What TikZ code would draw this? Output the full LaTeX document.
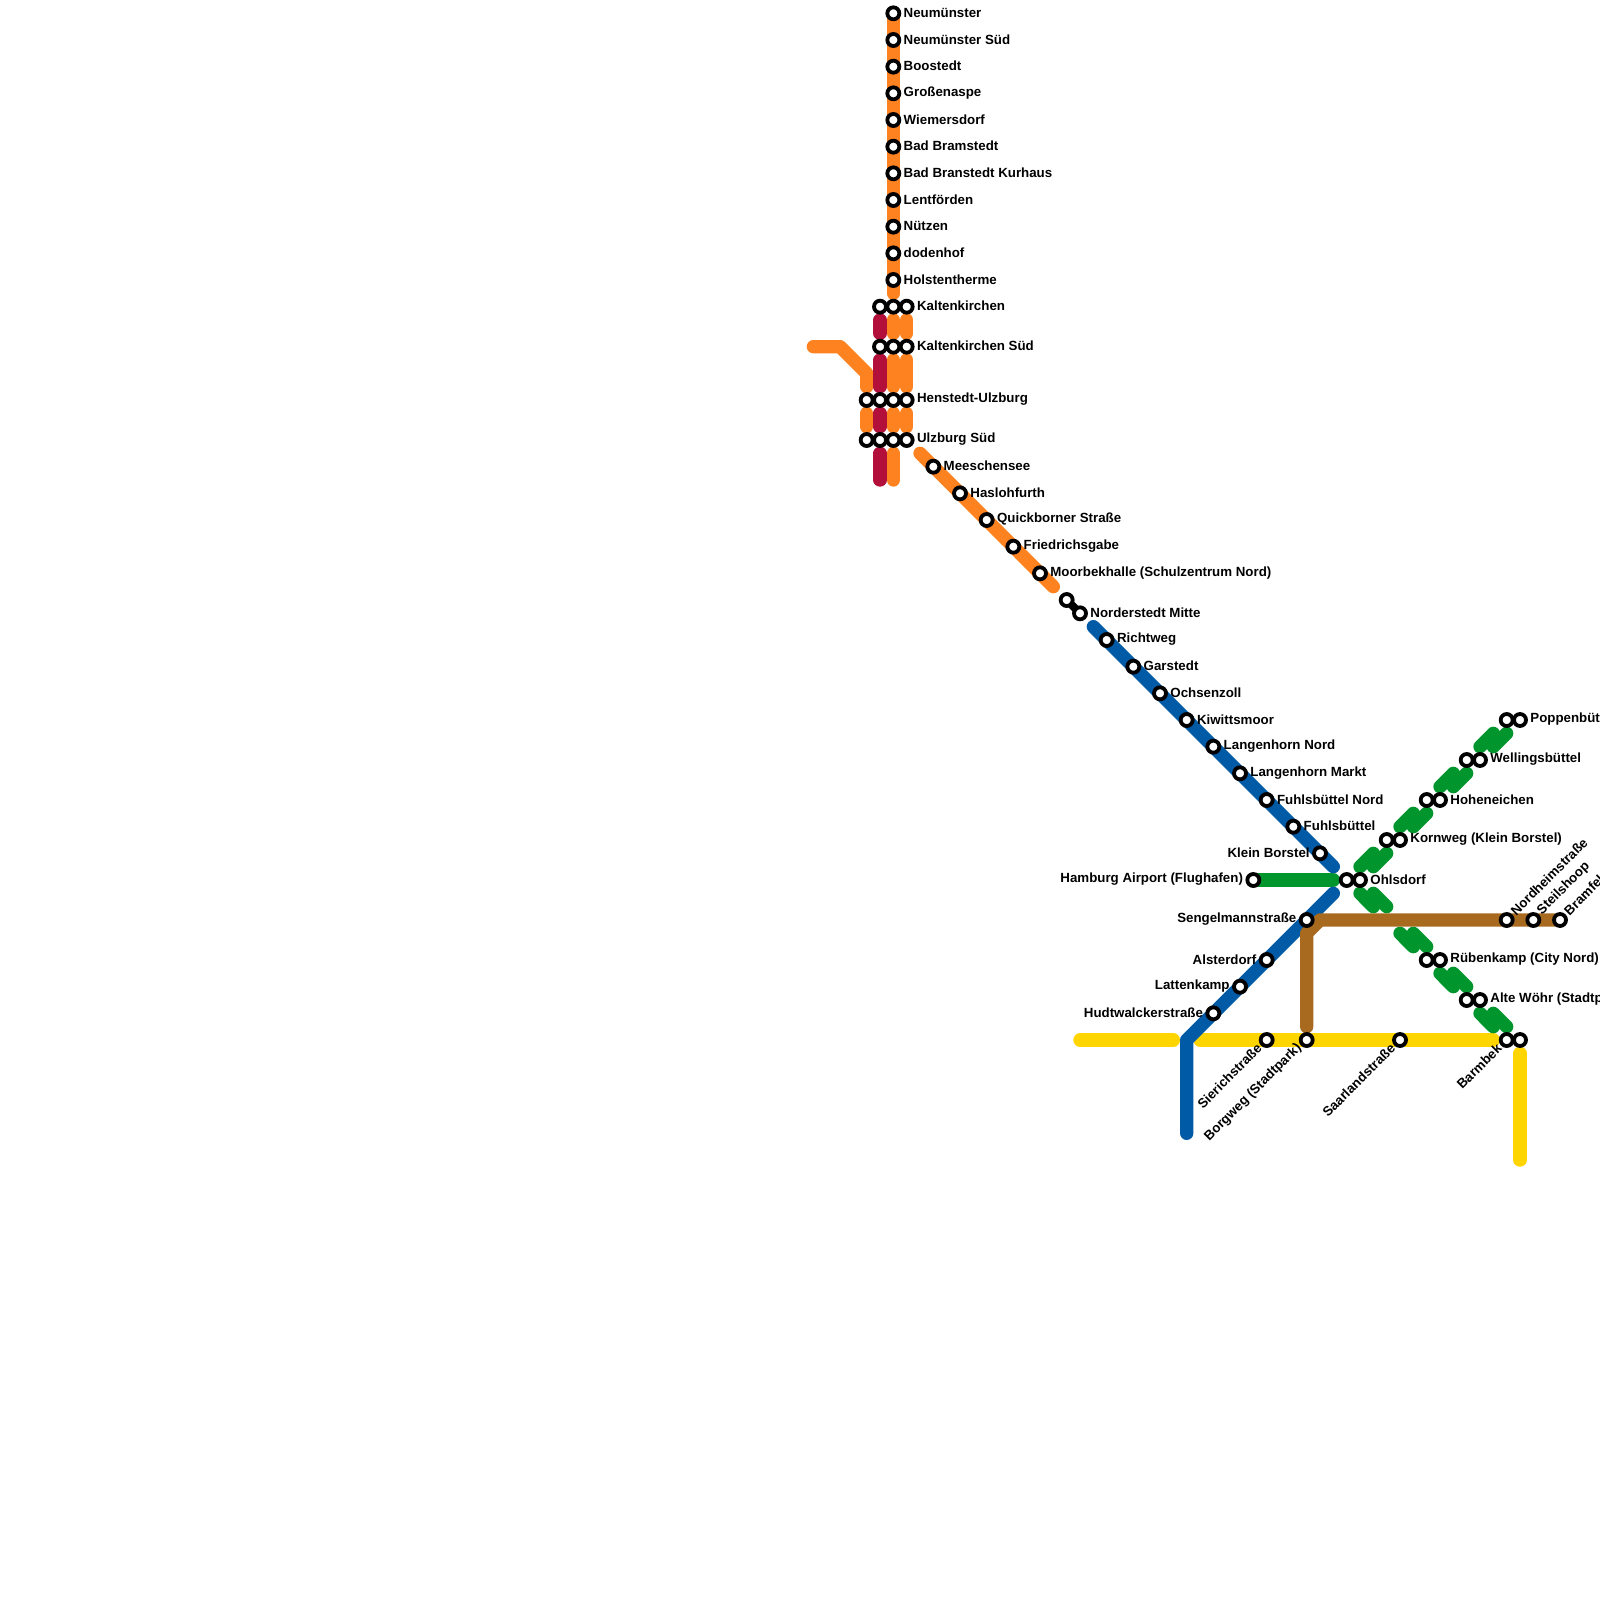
\documentclass[tikz,border=0pt]{standalone}
\usepackage{fontspec}
\setmainfont{Liberation Sans}
\usetikzlibrary{backgrounds}
\definecolor{cOrange}{HTML}{FF8220}
\definecolor{cCrimson}{HTML}{B2103A}
\definecolor{cBlue}{HTML}{005AA6}
\definecolor{cGreen}{HTML}{00962D}
\definecolor{cBrown}{HTML}{A86A1E}
\definecolor{cYellow}{HTML}{FFD500}
\tikzset{
  stn/.style={circle,draw=black,fill=white,line width=3.8pt,minimum size=12pt,inner sep=0pt},
  tr/.style={anchor=west,inner sep=0pt,font=\fontsize{13.3}{15}\selectfont\bfseries,xshift=10.2pt,yshift=0.7pt},
  tl/.style={anchor=east,inner sep=0pt,font=\fontsize{13.3}{15}\selectfont\bfseries,xshift=-10.2pt,yshift=0.7pt},
  tne/.style={anchor=west,inner sep=0pt,font=\fontsize{13.3}{15}\selectfont\bfseries,rotate=45,xshift=9.5pt,yshift=0.7pt},
  tsw/.style={anchor=east,inner sep=0pt,font=\fontsize{13.3}{15}\selectfont\bfseries,rotate=45,xshift=-9.5pt,yshift=0.7pt},
  ln/.style={line width=13.33pt,line cap=round,line join=round},
  lnk/.style={line width=8pt,draw=black},
}
\newcommand{\st}[3]{\node[stn] (#1) at (#2,#3) {};}
\newcommand{\pt}[3]{\coordinate (#1) at (#2,#3);}
\begin{document}
\begin{tikzpicture}[x=1pt,y=-1pt]
\useasboundingbox (0,0) rectangle (1600,1600);
% stations
\st{a1}{893.33}{13.33}\st{a2}{893.33}{40}\st{a3}{893.33}{66.67}\st{a4}{893.33}{93.33}
\st{a5}{893.33}{120}\st{a6}{893.33}{146.67}\st{a7}{893.33}{173.33}\st{a8}{893.33}{200}
\st{a9}{893.33}{226.67}\st{a10}{893.33}{253.33}\st{a11}{893.33}{280}
\st{k1}{880}{306.67}\st{k2}{893.33}{306.67}\st{k3}{906.67}{306.67}
\st{s1}{880}{346.67}\st{s2}{893.33}{346.67}\st{s3}{906.67}{346.67}
\st{h0}{866.67}{400}\st{h1}{880}{400}\st{h2}{893.33}{400}\st{h3}{906.67}{400}
\st{u0}{866.67}{440}\st{u1}{880}{440}\st{u2}{893.33}{440}\st{u3}{906.67}{440}
\st{b1}{933.33}{466.67}\st{b2}{960}{493.33}\st{b3}{986.67}{520}\st{b4}{1013.33}{546.67}\st{b5}{1040}{573.33}
\st{n1}{1066.67}{600}\st{n2}{1080}{613.33}
\st{c1}{1106.67}{640}\st{c2}{1133.33}{666.67}\st{c3}{1160}{693.33}\st{c4}{1186.67}{720}
\st{c5}{1213.33}{746.67}\st{c6}{1240}{773.33}\st{c7}{1266.67}{800}\st{c8}{1293.33}{826.67}\st{c9}{1320}{853.33}
\st{air}{1253.33}{880}\st{o1}{1346.67}{880}\st{o2}{1360}{880}
\st{kw1}{1386.67}{840}\st{kw2}{1400}{840}
\st{ho1}{1426.67}{800}\st{ho2}{1440}{800}
\st{we1}{1466.67}{760}\st{we2}{1480}{760}
\st{po1}{1506.67}{720}\st{po2}{1520}{720}
\st{ru1}{1426.67}{960}\st{ru2}{1440}{960}
\st{al1}{1466.67}{1000}\st{al2}{1480}{1000}
\st{ba1}{1506.67}{1040}\st{ba2}{1520}{1040}
\st{sg}{1306.67}{920}\st{as}{1266.67}{960}\st{la}{1240}{986.67}\st{hu}{1213.33}{1013.33}
\st{si}{1266.67}{1040}\st{bo}{1306.67}{1040}\st{sa}{1400}{1040}
\st{nh}{1506.67}{920}\st{sh}{1533.33}{920}\st{bf}{1560}{920}
% free ends
\pt{oe}{893.33}{293.33}
\pt{kc1a}{880}{320}\pt{kc1b}{880}{333.33}\pt{ko2a}{893.33}{320}\pt{ko2b}{893.33}{333.33}\pt{ko3a}{906.67}{320}\pt{ko3b}{906.67}{333.33}
\pt{sc1a}{880}{360}\pt{sc1b}{880}{386.67}\pt{so2a}{893.33}{360}\pt{so2b}{893.33}{386.67}\pt{so3a}{906.67}{360}\pt{so3b}{906.67}{386.67}
\pt{ho0a}{866.67}{413.33}\pt{ho0b}{866.67}{426.67}\pt{hc1a}{880}{413.33}\pt{hc1b}{880}{426.67}
\pt{ho2a}{893.33}{413.33}\pt{ho2b}{893.33}{426.67}\pt{ho3a}{906.67}{413.33}\pt{ho3b}{906.67}{426.67}
\pt{uc1a}{880}{453.33}\pt{uc1b}{880}{480}\pt{uo2a}{893.33}{453.33}\pt{uo2b}{893.33}{480}
\pt{w1}{813.33}{346.67}\pt{w2}{840}{346.67}\pt{w3}{866.67}{373.33}\pt{w4}{866.67}{386.67}
\pt{ds}{920}{453.33}\pt{de}{1053.33}{586.67}
\pt{bls}{1093.33}{626.67}\pt{ble}{1333.33}{866.67}
\pt{b2s}{1333.33}{893.33}\pt{b2m}{1186.67}{1040}\pt{b2e}{1186.67}{1133.33}
\pt{gae}{1333.33}{880}
\pt{y1a}{1080}{1040}\pt{y1b}{1173.33}{1040}\pt{y2a}{1200}{1040}\pt{y2b}{1493.33}{1040}
\pt{y3a}{1520}{1053.33}\pt{y3b}{1520}{1160}
\pt{bra}{1306.67}{1026.67}\pt{brb}{1306.67}{933.33}\pt{brc}{1320}{920}
% green free ends
\pt{g1a}{1360}{866.67}\pt{g1b}{1373.33}{853.33}\pt{g1c}{1373.33}{866.67}\pt{g1d}{1386.67}{853.33}
\pt{g2a}{1400}{826.67}\pt{g2b}{1413.33}{813.33}\pt{g2c}{1413.33}{826.67}\pt{g2d}{1426.67}{813.33}
\pt{g3a}{1440}{786.67}\pt{g3b}{1453.33}{773.33}\pt{g3c}{1453.33}{786.67}\pt{g3d}{1466.67}{773.33}
\pt{g4a}{1480}{746.67}\pt{g4b}{1493.33}{733.33}\pt{g4c}{1493.33}{746.67}\pt{g4d}{1506.67}{733.33}
\pt{g5a}{1360}{893.33}\pt{g5b}{1373.33}{906.67}\pt{g5c}{1373.33}{893.33}\pt{g5d}{1386.67}{906.67}
\pt{g6a}{1400}{933.33}\pt{g6b}{1413.33}{946.67}\pt{g6c}{1413.33}{933.33}\pt{g6d}{1426.67}{946.67}
\pt{g7a}{1440}{973.33}\pt{g7b}{1453.33}{986.67}\pt{g7c}{1453.33}{973.33}\pt{g7d}{1466.67}{986.67}
\pt{g8a}{1480}{1013.33}\pt{g8b}{1493.33}{1026.67}\pt{g8c}{1493.33}{1013.33}\pt{g8d}{1506.67}{1026.67}
\begin{pgfonlayer}{background}
\fill[white] (0,0) rectangle (1600,1600);
% yellow
\draw[ln,cYellow] (y1a)--(y1b);
\draw[ln,cYellow] (y2a)--(y2b);
\draw[ln,cYellow] (y3a)--(y3b);
% green
\draw[ln,cGreen] (air.center)--(gae);
\foreach \p in {g1,g2,g3,g4,g5,g6,g7,g8}{
  \draw[ln,cGreen] (\p a)--(\p b);
  \draw[ln,cGreen] (\p c)--(\p d);
}
% blue
\draw[ln,cBlue] (bls)--(ble);
\draw[ln,cBlue] (b2s)--(b2m)--(b2e);
% brown
\draw[ln,cBrown] (bra)--(brb)--(brc)--(bf.center);
% orange
\draw[ln,cOrange] (a1.center)--(oe);
\draw[ln,cOrange] (ko2a)--(ko2b);\draw[ln,cOrange] (ko3a)--(ko3b);
\draw[ln,cOrange] (so2a)--(so2b);\draw[ln,cOrange] (so3a)--(so3b);
\draw[ln,cOrange] (ho0a)--(ho0b);\draw[ln,cOrange] (ho2a)--(ho2b);\draw[ln,cOrange] (ho3a)--(ho3b);
\draw[ln,cOrange] (uo2a)--(uo2b);
\draw[ln,cOrange] (w1)--(w2)--(w3)--(w4);
\draw[ln,cOrange] (ds)--(de);
% crimson
\draw[ln,cCrimson] (kc1a)--(kc1b);\draw[ln,cCrimson] (sc1a)--(sc1b);
\draw[ln,cCrimson] (hc1a)--(hc1b);\draw[ln,cCrimson] (uc1a)--(uc1b);
% interchange links
\draw[lnk] (k1.center)--(k3.center);\draw[lnk] (s1.center)--(s3.center);
\draw[lnk] (h0.center)--(h3.center);\draw[lnk] (u0.center)--(u3.center);
\draw[lnk] (n1.center)--(n2.center);
\foreach \p/\q in {o1/o2,kw1/kw2,ho1/ho2,we1/we2,po1/po2,ru1/ru2,al1/al2,ba1/ba2}{\draw[lnk] (\p.center)--(\q.center);}
\end{pgfonlayer}
% labels
\node[tr] (la1) at (a1.center) {Neumünster};
\node[tr] (la2) at (a2.center) {Neumünster Süd};
\node[tr] (la3) at (a3.center) {Boostedt};
\node[tr] (la4) at (a4.center) {Großenaspe};
\node[tr] (la5) at (a5.center) {Wiemersdorf};
\node[tr] (la6) at (a6.center) {Bad Bramstedt};
\node[tr] (la7) at (a7.center) {Bad Branstedt Kurhaus};
\node[tr] (la8) at (a8.center) {Lentförden};
\node[tr] (la9) at (a9.center) {Nützen};
\node[tr] (la10) at (a10.center) {dodenhof};
\node[tr] (la11) at (a11.center) {Holstentherme};
\node[tr] (lk) at (k3.center) {Kaltenkirchen};
\node[tr] (ls) at (s3.center) {Kaltenkirchen Süd};
\node[tr] (lh) at (h3.center) {Henstedt-Ulzburg};
\node[tr] (lu) at (u3.center) {Ulzburg Süd};
\node[tr] (lb1) at (b1.center) {Meeschensee};
\node[tr] (lb2) at (b2.center) {Haslohfurth};
\node[tr] (lb3) at (b3.center) {Quickborner Straße};
\node[tr] (lb4) at (b4.center) {Friedrichsgabe};
\node[tr] (lb5) at (b5.center) {Moorbekhalle (Schulzentrum Nord)};
\node[tr] (ln2) at (n2.center) {Norderstedt Mitte};
\node[tr] (lc1) at (c1.center) {Richtweg};
\node[tr] (lc2) at (c2.center) {Garstedt};
\node[tr] (lc3) at (c3.center) {Ochsenzoll};
\node[tr] (lc4) at (c4.center) {Kiwittsmoor};
\node[tr] (lc5) at (c5.center) {Langenhorn Nord};
\node[tr] (lc6) at (c6.center) {Langenhorn Markt};
\node[tr] (lc7) at (c7.center) {Fuhlsbüttel Nord};
\node[tr] (lc8) at (c8.center) {Fuhlsbüttel};
\node[tl] (lc9) at (c9.center) {Klein Borstel};
\node[tl] (lair) at (air.center) {Hamburg Airport (Flughafen)};
\node[tr] (lo) at (o2.center) {Ohlsdorf};
\node[tr] (lkw) at (kw2.center) {Kornweg (Klein Borstel)};
\node[tr] (lho) at (ho2.center) {Hoheneichen};
\node[tr] (lwe) at (we2.center) {Wellingsbüttel};
\node[tr] (lpo) at (po2.center) {Poppenbüttel};
\node[tr] (lru) at (ru2.center) {Rübenkamp (City Nord)};
\node[tr] (lal) at (al2.center) {Alte Wöhr (Stadtpark)};
\node[tl] (lsg) at (sg.center) {Sengelmannstraße};
\node[tl] (las) at (as.center) {Alsterdorf};
\node[tl] (lla) at (la.center) {Lattenkamp};
\node[tl] (lhu) at (hu.center) {Hudtwalckerstraße};
\node[tsw] (lsi) at (si.center) {Sierichstraße};
\node[tsw] (lbo) at (bo.center) {Borgweg (Stadtpark)};
\node[tsw] (lsa) at (sa.center) {Saarlandstraße};
\node[tsw] (lba) at (ba1.center) {Barmbek};
\node[tne] (lnh) at (nh.center) {Nordheimstraße};
\node[tne] (lsh) at (sh.center) {Steilshoop};
\node[tne] (lbf) at (bf.center) {Bramfeld};
\end{tikzpicture}
\end{document}
